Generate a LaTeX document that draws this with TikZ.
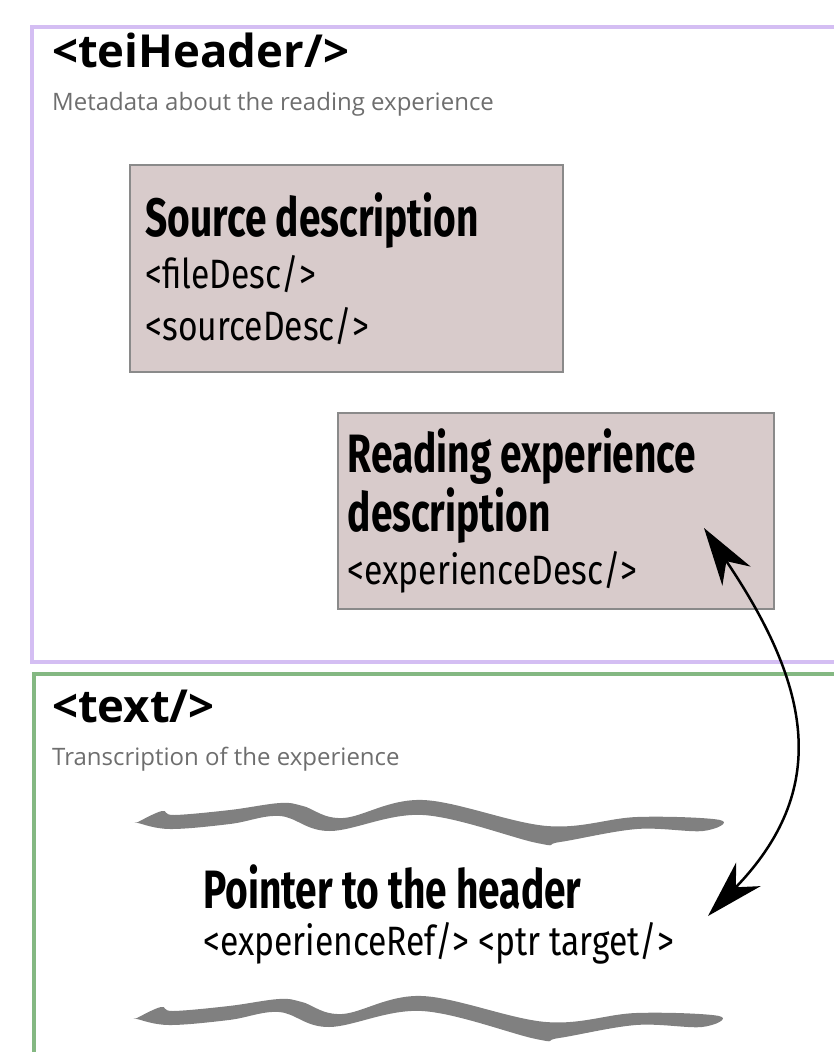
\documentclass[tikz,border=0pt]{standalone}
\usepackage{fontspec}
\setmainfont{Open Sans}
\newfontfamily\titlefont[FakeStretch=0.72]{Fira Sans}
\newfontfamily\tagfont[FakeStretch=0.82]{Fira Sans}
\usetikzlibrary{positioning, arrows.meta}
\definecolor{headerpurple}{HTML}{D4BEF3}
\definecolor{textgreen}{HTML}{84B882}
\definecolor{boxfill}{HTML}{D8CBCB}
\definecolor{boxedge}{HTML}{8A8A8A}
\definecolor{subgray}{HTML}{6E6E6E}
\definecolor{wavegray}{HTML}{808080}
\newcommand{\boxtitle}{\titlefont\bfseries\fontsize{54}{59}\selectfont\spaceskip=0pt\xspaceskip=0pt}
\newcommand{\boxtag}{\tagfont\fontsize{41}{52}\selectfont\spaceskip=0pt\xspaceskip=0pt}
\tikzset{
  teiframe/.style={line width=4.5pt},
  heading/.style={
    anchor=base west,
    inner sep=0pt,
    font=\fontsize{45.5}{50}\selectfont\bfseries
  },
  subline/.style={
    anchor=base west,
    inner sep=0pt,
    text=subgray,
    font=\fontsize{24}{28}\selectfont
  },
  block/.style={
    draw=boxedge,
    line width=1.5pt,
    fill=boxfill,
    anchor=north west,
    align=left
  },
  wave/.pic={
    \fill[wavegray] plot[smooth cycle, tension=0.6] coordinates {
      (0,0) (24,-11) (36,-7) (92,-12) (142,-19) (165,-16) (205,-4)
      (285,-22) (409,4) (499,-5) (582,-2)
      (565,9) (499,7) (422,20) (399,21) (285,-7) (192,9) (142,-6)
      (92,2) (32,7) (0,1)};
  },
  pointer/.style={
    line width=2.5pt,
    {Stealth[length=58pt, width=34pt, inset=18pt]}-{Stealth[length=58pt, width=34pt, inset=18pt]}
  }
}

\begin{document}
\begin{tikzpicture}[x=1pt, y=-1pt]
  \clip (0,0) rectangle (834,1052);

  % the two parts of the file
  \draw[teiframe, headerpurple] (32,27) rectangle (900,662);
  \draw[teiframe, textgreen] (34,674) rectangle (900,1100);

  \node[heading] (hdr) at (52,67) {<teiHeader/>};
  \node[subline] (hdrsub) at (52,110) {Metadata about the reading experience};

  \node[block, inner xsep=16pt, text width=401pt, minimum width=433pt, minimum height=207pt] (srcbox) at (129,164)
    {{\boxtitle Source description\par}{\boxtag <fileDesc/>\par <sourceDesc/>\par}\vspace*{16pt}};
  \node[block, inner xsep=10pt, text width=416pt, minimum width=436pt, minimum height=196pt] (expbox) at (337,412)
    {{\boxtitle Reading experience\par description\par}{\boxtag\baselineskip=53pt <experienceDesc/>\par}\vspace*{10pt}};

  \node[heading] (txt) at (52,722) {<text/>};
  \node[subline] (txtsub) at (52,765) {Transcription of the experience};

  \pic at (138,822) {wave};
  \node[anchor=base west, inner sep=0pt, align=left, text width=560pt] (ptr) at (203,908)
    {{\boxtitle Pointer to the header\par}{\boxtag\baselineskip=47pt <experienceRef/> <ptr target/>\par}};
  \pic at (137,1018) {wave};

  \coordinate (uptip) at (704,528);
  \coordinate (lowtip) at (708,916);
  \draw[pointer] (uptip) .. controls +(108,160) and +(122,-126) .. (lowtip);
\end{tikzpicture}
\end{document}
